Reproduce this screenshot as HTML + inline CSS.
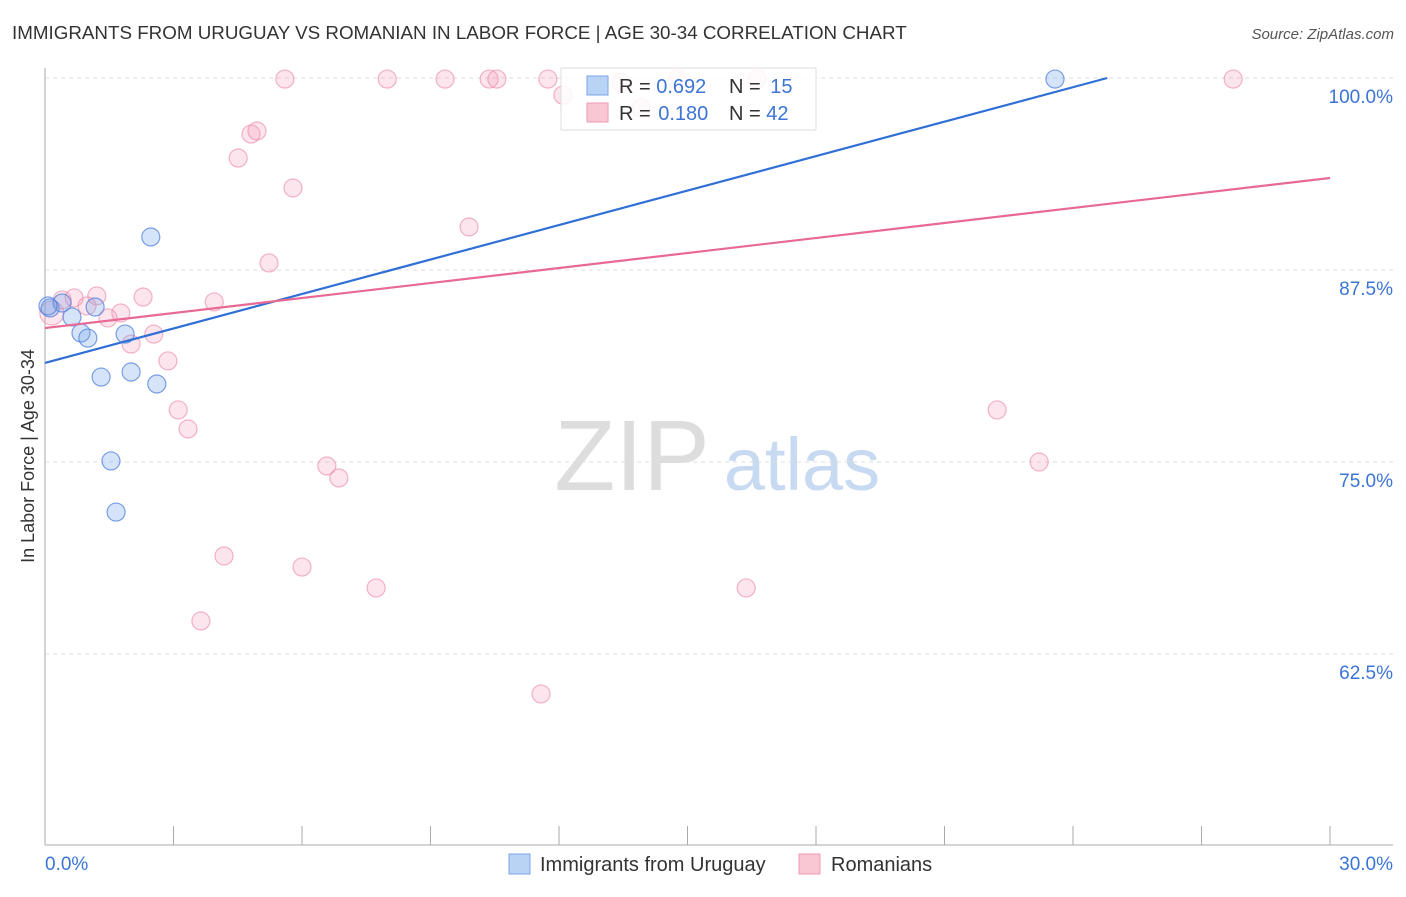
<!DOCTYPE html>
<html><head><meta charset="utf-8"><style>
body{margin:0;background:#fff;font-family:"Liberation Sans",sans-serif;}
svg text{font-family:"Liberation Sans",sans-serif;}
</style></head><body>
<svg id="c" width="1406" height="892">
<text x="12" y="39" font-size="18.8" fill="#333">IMMIGRANTS FROM URUGUAY VS ROMANIAN IN LABOR FORCE | AGE 30-34 CORRELATION CHART</text>
<text x="1394" y="39" font-size="15" fill="#555" font-style="italic" text-anchor="end">Source: ZipAtlas.com</text>
<text x="0" y="0" transform="translate(34,456) rotate(-90)" font-size="18" fill="#333" text-anchor="middle">In Labor Force | Age 30-34</text>
<g>
<text x="632" y="490" font-size="100" fill="#ddd" font-family="Liberation Serif" text-anchor="middle">ZIP</text>
<text x="802" y="490" font-size="74" fill="#c8daf2" text-anchor="middle">atlas</text>
</g>
<g id="grid"></g><g id="marks"></g>
<g>
<rect x="561" y="68" width="255" height="62" fill="#fff" fill-opacity="0.85" stroke="#ddd"/>
<rect x="587" y="76" width="21" height="19" fill="#b9d3f5" stroke="#7aa6e6"/>
<rect x="587" y="103" width="21" height="19" fill="#f9c6d4" stroke="#ef9ab3"/>
<text x="619" y="93" font-size="20" fill="#333">R = <tspan fill="#3b74d6">0.692</tspan></text>
<text x="729" y="93" font-size="20" fill="#333">N = <tspan fill="#3b74d6" dx="4">15</tspan></text>
<text x="619" y="120" font-size="20" fill="#333">R = <tspan fill="#3b74d6" dx="2">0.180</tspan></text>
<text x="729" y="120" font-size="20" fill="#333">N = <tspan fill="#3b74d6">42</tspan></text>
</g>
<g>
<rect x="509" y="854" width="21" height="20" fill="#b9d3f5" stroke="#7aa6e6"/>
<text x="540" y="871" font-size="20" fill="#333">Immigrants from Uruguay</text>
<rect x="799" y="854" width="21" height="20" fill="#f9c6d4" stroke="#ef9ab3"/>
<text x="831" y="871" font-size="20" fill="#333">Romanians</text>
</g>
<text x="45" y="870" font-size="19" fill="#3b74d6">0.0%</text>
<text x="1393" y="870" font-size="19" fill="#3b74d6" text-anchor="end">30.0%</text>
</svg>
<script>
const yTicks=[100,87.5,75,62.5];
const yTickLabels=["100.0%","87.5%","75.0%","62.5%"];
const xTicks=[0,3,6,9,12,15,18,21,24,27,30];
const uruguayX=[0.12,0.40,0.63,1.17,0.84,1.00,1.87,2.47,1.31,2.01,2.61,1.54,1.66,23.58,0.07];
const uruguayY=[85.03,85.35,84.44,85.09,83.40,83.07,83.33,89.65,80.53,80.86,80.08,75.07,71.74,99.93,85.16];
const romanianX=[0.16,0.40,0.68,1.21,0.98,1.47,1.77,2.29,2.01,2.54,2.87,3.11,3.34,3.95,4.51,4.81,4.95,5.60,5.79,5.23,4.18,3.64,6.00,6.58,6.86,7.73,7.99,9.34,9.90,10.37,10.55,11.74,12.09,11.58,13.45,13.92,14.76,16.37,16.62,22.23,23.21,27.74];
const romanianY=[84.70,85.55,85.68,85.81,85.16,84.38,84.70,85.74,82.68,83.33,81.58,78.39,77.15,85.42,94.79,96.35,96.55,99.93,92.84,87.96,68.88,64.65,68.16,74.74,73.96,66.80,99.93,99.93,90.30,99.93,99.93,99.93,98.89,59.90,99.7,98.05,99.93,66.80,99.93,78.39,75.0,99.93];
const uruguayTrend=[81.45,0.748];   // intercept, slope per %
const romanianTrend=[83.72,0.3257];
const NS="http://www.w3.org/2000/svg";
const sx=v=>45+v/30*1285;
const sy=v=>78+(100-v)*15.36;
function mk(tag,attrs,parent){const e=document.createElementNS(NS,tag);for(const k in attrs)e.setAttribute(k,attrs[k]);parent.appendChild(e);return e;}
const grid=document.getElementById('grid'),marks=document.getElementById('marks');
yTicks.forEach((t,i)=>{
  const l=mk('line',{x1:45,x2:1393,y1:sy(t),y2:sy(t),stroke:'#ddd','stroke-dasharray':'4,4'},grid);
  
  
  const tx=mk('text',{x:1393,y:sy(t)+25,'font-size':19,fill:'#3b74d6','text-anchor':'end'},grid);
  tx.textContent=yTickLabels[i];
  
  
});
const ya=mk('line',{x1:45,x2:45,y1:68,y2:845,stroke:'#aaa'},grid);


const xa=mk('line',{x1:45,x2:1393,y1:845,y2:845,stroke:'#aaa'},grid);


xTicks.forEach(t=>{
  const l=mk('line',{x1:sx(t),x2:sx(t),y1:826,y2:845,stroke:'#aaa'},grid);
  
  
});
romanianX.forEach((x,i)=>{
  const c=mk('circle',{cx:sx(x),cy:sy(romanianY[i]),r:i==0?12:9,fill:'rgba(244,150,180,0.25)',stroke:'rgba(236,140,170,0.65)','stroke-width':1.2},marks);
  
  
});
uruguayX.forEach((x,i)=>{
  const c=mk('circle',{cx:sx(x),cy:sy(uruguayY[i]),r:9,fill:'rgba(120,165,235,0.3)',stroke:'rgba(80,130,220,0.75)','stroke-width':1.2},marks);
  
  
});
const ue=(100-uruguayTrend[0])/uruguayTrend[1];
const lu=mk('line',{x1:sx(0),y1:sy(uruguayTrend[0]),x2:sx(ue),y2:sy(100),stroke:'#2f6fd6','stroke-width':2.2},marks);


const lr=mk('line',{x1:sx(0),y1:sy(romanianTrend[0]),x2:sx(30),y2:sy(romanianTrend[0]+30*romanianTrend[1]),stroke:'#e86a94','stroke-width':2.2},marks);


</script>
</body></html>
